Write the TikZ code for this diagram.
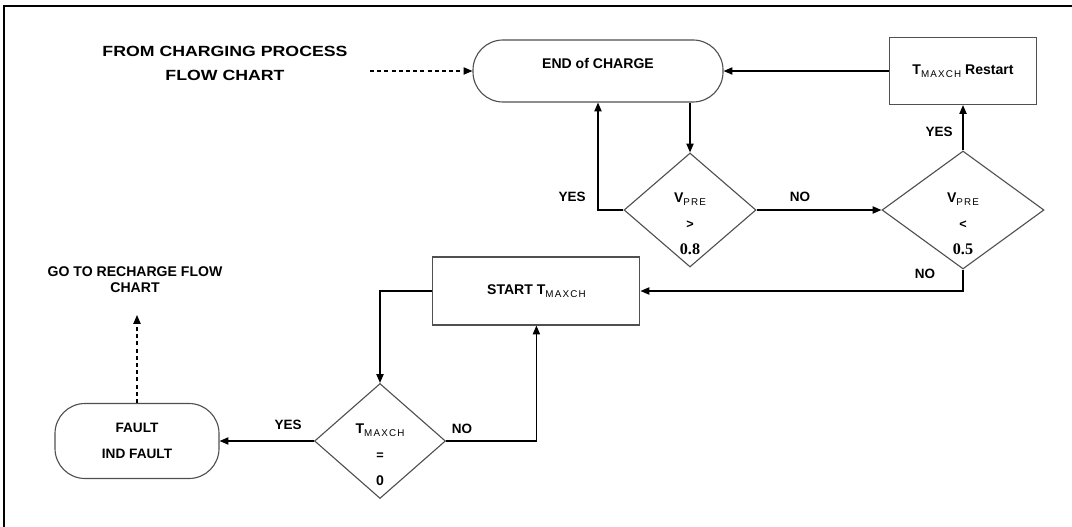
\documentclass[tikz,border=0pt]{standalone}
\usepackage{fontspec}
\setmainfont{Liberation Sans}
\newfontfamily\numfont{Liberation Serif}
\newfontfamily\widefont[FakeStretch=1.2]{Liberation Sans}
\usetikzlibrary{shapes.geometric, arrows.meta, positioning, calc}
\definecolor{nodeline}{RGB}{80,80,80}
\newcommand{\lowtxt}[1]{\raisebox{-0.35ex}{\mdseries\fontsize{7}{8}\selectfont\addfontfeatures{LetterSpace=12}#1}}

\begin{document}
\begin{tikzpicture}[
    terminal/.style={draw=nodeline, line width=0.8pt, rounded corners=0.75cm, align=center, font=\fontsize{9.7}{19}\selectfont\bfseries},
    process/.style={draw=nodeline, line width=0.8pt, align=center, font=\fontsize{10}{12}\selectfont\bfseries},
    decision/.style={diamond, draw=nodeline, line width=0.8pt, inner sep=0pt},
    dlabel/.style={align=center, inner sep=0pt, yshift=-0.35cm, font=\fontsize{10}{18.5}\selectfont\bfseries},
    answer/.style={font=\fontsize{9.6}{11}\selectfont\bfseries},
    arrow/.style={-{Triangle[length=2.2mm, width=1.8mm]}, line width=0.9pt},
    dasharrow/.style={arrow, dash pattern=on 1mm off 0.8mm}
]
    \useasboundingbox (0,0) rectangle (26.8,-13.175);
    \draw[line width=2pt] (0.1,-13.175) -- (0.1,-0.15) -- (26.8,-0.15);

    % Entry and end of charge
    \node[font=\widefont\fontsize{10.5}{17}\selectfont\bfseries, align=center] (from) at (5.625,-1.575) {FROM CHARGING PROCESS\\FLOW CHART};
    \coordinate (fromtip) at (9.25,-1.775);
    \node[terminal, minimum width=6.25cm, minimum height=1.55cm,
          label={[yshift=0.2cm, font=\fontsize{10}{12}\selectfont\bfseries]center:END of CHARGE}] (eoc) at (14.95,-1.775) {};
    \node[process, minimum width=3.675cm, minimum height=1.675cm] (restart) at (24.075,-1.775) {T\lowtxt{MAXCH} Restart};

    % Voltage checks
    \node[decision, minimum width=3.3cm, minimum height=2.85cm,
          label={[dlabel]center:{V\lowtxt{PRE}\\{\fontsize{9}{18.5}\selectfont >}\\{\fontsize{11.5}{18.5}\selectfont\numfont 0.8}}}] (vhigh) at (17.25,-5.25) {};
    \node[decision, minimum width=4.05cm, minimum height=2.95cm,
          label={[dlabel]center:{V\lowtxt{PRE}\\{\fontsize{9}{18.5}\selectfont <}\\{\fontsize{11.5}{18.5}\selectfont\numfont 0.5}}}] (vlow) at (24.075,-5.25) {};

    % Timer loop
    \node[process, minimum width=5.175cm, minimum height=1.7cm] (start) at (13.41,-7.275) {START T\lowtxt{MAXCH}};
    \node[decision, minimum width=3.275cm, minimum height=2.875cm,
          label={[dlabel]center:{T\lowtxt{MAXCH}\\{\fontsize{9}{18.5}\selectfont =}\\0}}] (tzero) at (9.5,-11.025) {};
    \node[terminal, minimum width=4.1cm, minimum height=1.875cm] (fault) at (3.425,-11.025) {FAULT\\IND FAULT};
    \node[font=\fontsize{10}{11.4}\selectfont\bfseries, align=center] (goto) at (3.375,-7.0) {GO TO RECHARGE FLOW\\CHART};
    \coordinate (gotip) at (3.425,-7.875);

    % Answers
    \node[answer] (yes1) at (14.3,-4.925) {YES};
    \node[answer] (no1) at (20.0,-4.925) {NO};
    \node[answer] (yes2) at (23.475,-3.3) {YES};
    \node[answer] (no2) at (23.125,-6.85) {NO};
    \node[answer] (no3) at (11.55,-10.725) {NO};
    \node[answer] (yes3) at (7.2,-10.625) {YES};

    % Arrows
    \draw[dasharrow] (fromtip) -- (eoc.west);
    \draw[arrow] (restart) -- (eoc);
    \draw[arrow] (eoc.south -| vhigh.north) -- (vhigh.north);
    \draw[arrow] (vhigh.west) -| (eoc.south);
    \draw[arrow] (vhigh.east) -- (vlow.west);
    \draw[arrow] (vlow.north) -- (restart.south);
    \draw[arrow] (vlow.south) |- (start.east);
    \draw[arrow] (start.west) -| (tzero.north);
    \draw[arrow] (tzero.east) -| (start.south);
    \draw[arrow] (tzero.west) -- (fault.east);
    \draw[dasharrow] (fault.north) -- (gotip);
\end{tikzpicture}
\end{document}
